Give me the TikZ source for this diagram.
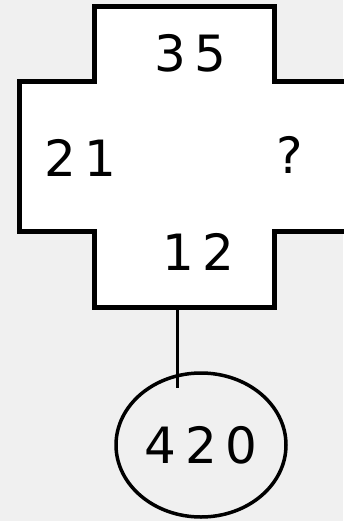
\documentclass[tikz,border=0pt]{standalone}
\usepackage{fontspec}
\setmainfont{DejaVu Sans}
\usetikzlibrary{shapes.geometric}
\definecolor{sheetbg}{HTML}{F0F0F0}
\definecolor{sheetink}{HTML}{000000}

\begin{document}
\begin{tikzpicture}[
  x=1pt,
  y=-1pt,
  every node/.style={font=\fontsize{50}{50}\selectfont, text=sheetink},
  crossline/.style={draw=sheetink, line width=5pt, fill=white, line join=miter},
  stemline/.style={draw=sheetink, line width=3pt}
]
  \fill[sheetbg] (0,0) rectangle (343,521);
  \useasboundingbox (0,0) rectangle (343,521);
  \def\crossB{(94,7) -- (274,7) -- (274,82) -- (350,82) -- (350,231) -- (274,231)
    -- (274,307) -- (94,307) -- (94,231) -- (19,231) -- (19,82) -- (94,82) -- cycle}
  \path[crossline] \crossB;
  \node (top) at (190,53) {3\,5};
  \node (left) at (80,158) {2\,1};
  \node (right) at (290,155) {?};
  \node (bottom) at (198,252) {1\,2};
  \coordinate (stem) at (177,309);
  \coordinate (stemend) at (177,388);
  \node[ellipse, draw=sheetink, line width=3.5pt, minimum width=170pt, minimum height=144pt,
    inner sep=0pt] (result) at (201,445) {4\,2\,0};
  \draw[stemline] (stem) -- (stemend);
\end{tikzpicture}
\end{document}
